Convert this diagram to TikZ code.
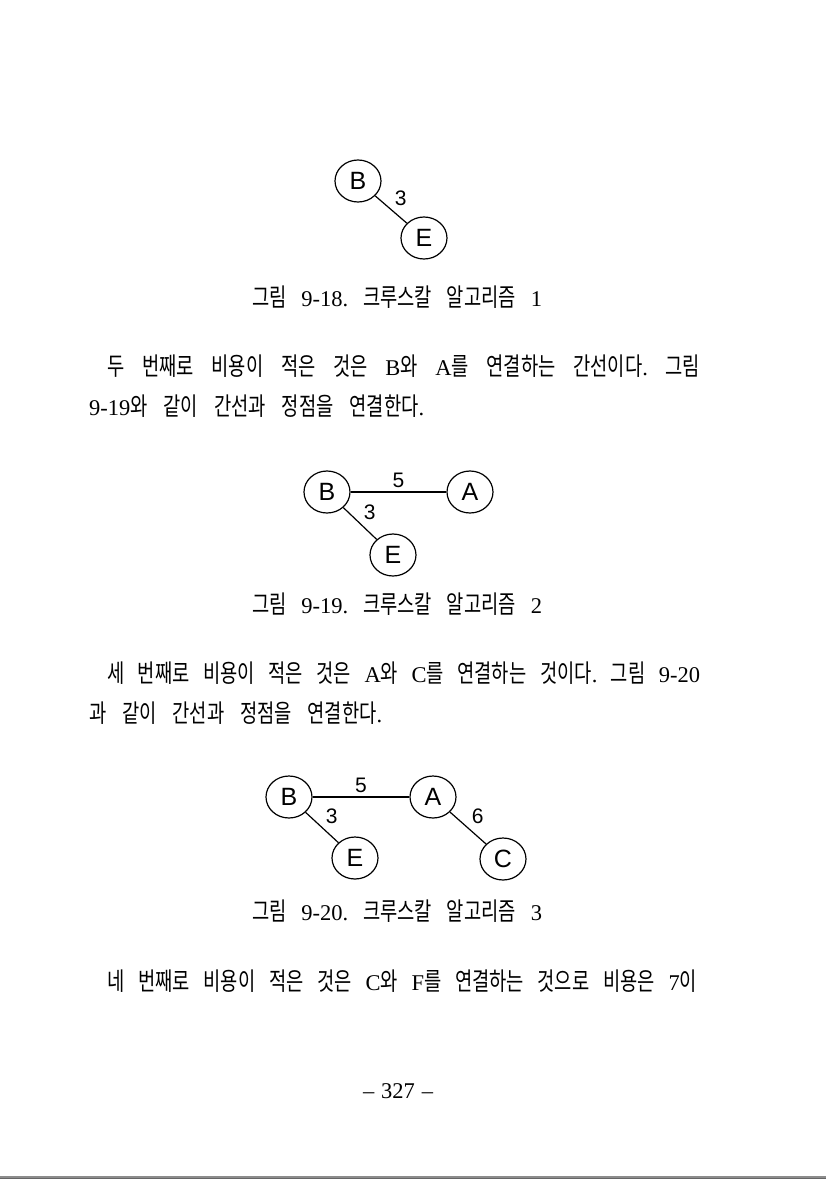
\documentclass[tikz,border=0pt]{standalone}
\usepackage{fontspec}
\setmainfont{Noto Sans CJK KR}[FakeStretch=0.75,WordSpace=2]
\newfontfamily\vertexfont{Liberation Sans}
\newfontfamily\latinfont{Liberation Serif}[Scale=0.9]
\newcommand\lat[1]{{\latinfont #1}}
\usetikzlibrary{graphs,positioning,shapes.geometric}
\frenchspacing
\tikzset{
    vertex/.style ={
        shape=ellipse,
        draw=black,
        line width=1.2pt,
        minimum width=46pt,
        minimum height=42pt,
        inner sep=0pt,
        font=\vertexfont\fontsize{25}{28}\selectfont
    },
    weight/.style ={
        line width=1.2pt,
        font=\vertexfont\fontsize{21}{24}\selectfont
    },
    textline/.style ={
        anchor=west,
        inner sep=0pt,
        font=\fontsize{25}{29}\selectfont
    },
    caption/.style ={
        inner sep=0pt,
        font=\fontsize{25}{29}\selectfont
    }
}

\begin{document}
\begin{tikzpicture}[x=1pt,y=-1pt]
    \useasboundingbox (0,0) rectangle (826,1179);
    % figure 9-18
    \node[vertex] (B1) at(358,181) {B};
    \node[vertex] (E1) at(424,238) {E};
    \node[caption] (cap1) at(397,297) {\makebox[290pt][s]{그림 \lat{9-18.} 크루스칼 알고리즘 \lat{1}}};
    \graph{
        (B1) --[weight, edge label=3] (E1);
    };
    % text
    \node[textline] (line1) at(107,366) {\makebox[593pt][s]{두 번째로 비용이 적은 것은 \lat{B}와 \lat{A}를 연결하는 간선이다\lat{.} 그림}};
    \node[textline] (line2) at(89,406) {\makebox[335pt][s]{\lat{9-19}와 같이 간선과 정점을 연결한다\lat{.}}};
    % figure 9-19
    \node[vertex] (B2) at(327,492) {B};
    \node[vertex] (A2) at(470,492) {A};
    \node[vertex] (E2) at(393,555) {E};
    \node[caption] (cap2) at(397,604) {\makebox[290pt][s]{그림 \lat{9-19.} 크루스칼 알고리즘 \lat{2}}};
    \graph{
        (B2) --[weight, edge label=5] (A2);
        (B2) --[weight, edge label=3] (E2);
    };
    % text
    \node[textline] (line3) at(107,673) {\makebox[593pt][s]{세 번째로 비용이 적은 것은 \lat{A}와 \lat{C}를 연결하는 것이다\lat{.} 그림 \lat{9-20}}};
    \node[textline] (line4) at(89,713) {\makebox[293pt][s]{과 같이 간선과 정점을 연결한다\lat{.}}};
    % figure 9-20
    \node[vertex] (B3) at(289,797) {B};
    \node[vertex] (A3) at(433,797) {A};
    \node[vertex] (E3) at(355,858) {E};
    \node[vertex] (C3) at(503,859) {C};
    \node[caption] (cap3) at(397,911) {\makebox[290pt][s]{그림 \lat{9-20.} 크루스칼 알고리즘 \lat{3}}};
    \graph{
        (B3) --[weight, edge label=5] (A3);
        (B3) --[weight, edge label=3] (E3);
        (A3) --[weight, edge label=6] (C3);
    };
    % text
    \node[textline] (line5) at(107,981) {\makebox[590pt][s]{네 번째로 비용이 적은 것은 \lat{C}와 \lat{F}를 연결하는 것으로 비용은 \lat{7}이}};
    \node[caption] (page) at(398,1091) {\makebox[70pt][s]{\lat{– 327 –}}};
    % bottom rule
    \fill[black!45] (0,1175.5) rectangle (826,1177.5);
    \fill[black!60] (0,1177.5) rectangle (826,1179);
\end{tikzpicture}
\end{document}
